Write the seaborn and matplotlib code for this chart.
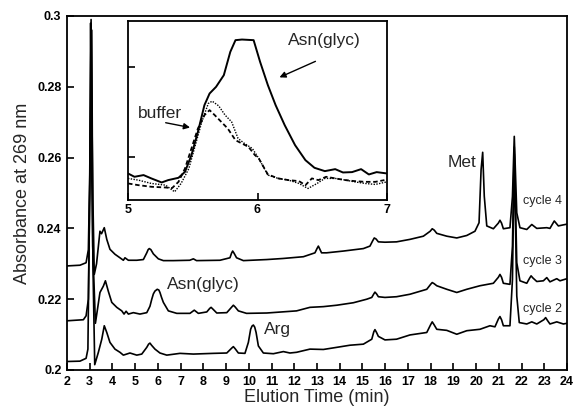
import numpy as np
import pandas as pd
import matplotlib
matplotlib.use("Agg")
import matplotlib.pyplot as plt
import seaborn as sns

# ---------------- data ----------------
c4_t = [2.0, 2.57, 2.84, 2.94, 3.0, 3.06, 3.10, 3.14, 3.20, 3.30, 3.45, 3.52, 3.64, 3.75, 3.89,
        4.11, 4.33, 4.48, 4.55, 4.70, 5.07, 5.36, 5.51, 5.57, 5.62, 5.69, 5.80, 6.02, 6.24, 6.68,
        7.40, 7.56, 7.70, 8.73, 9.17, 9.24, 9.29, 9.35, 9.46, 9.76, 10.79, 11.5, 12.4, 12.91, 13.00,
        13.06, 13.12, 13.2, 13.42, 14.16, 15.04, 15.33, 15.45, 15.52, 15.60, 15.70, 15.99, 16.5,
        17.09, 17.68, 17.98, 18.07, 18.16, 18.27, 18.71, 19.15, 19.59, 19.95, 20.13, 20.22, 20.29,
        20.36, 20.47, 20.76, 20.98, 21.05, 21.12, 21.20, 21.49, 21.60, 21.68, 21.79, 21.93, 22.23,
        22.45, 22.67, 23.11, 23.25, 23.44, 23.62, 23.84, 24.0]
c4_a = [0.2294, 0.2296, 0.2303, 0.2340, 0.2550, 0.2990, 0.2700, 0.2480, 0.2270, 0.2300, 0.2392,
        0.2385, 0.2402, 0.2369, 0.2341, 0.2327, 0.2317, 0.2310, 0.2317, 0.2310, 0.2310, 0.2312,
        0.2331, 0.2340, 0.2343, 0.2340, 0.2328, 0.2314, 0.2309, 0.2309, 0.2310, 0.2314, 0.2309,
        0.2310, 0.2317, 0.2330, 0.2336, 0.2330, 0.2317, 0.2309, 0.2312, 0.2315, 0.2320, 0.2331,
        0.2343, 0.2350, 0.2342, 0.2331, 0.2331, 0.2336, 0.2343, 0.2350, 0.2365, 0.2373, 0.2370,
        0.2362, 0.2361, 0.2362, 0.2369, 0.2378, 0.2392, 0.2399, 0.2395, 0.2386, 0.2378, 0.2373,
        0.2380, 0.2392, 0.2416, 0.2566, 0.2615, 0.2491, 0.2407, 0.2399, 0.2415, 0.2423, 0.2415,
        0.2399, 0.2402, 0.2490, 0.2660, 0.2444, 0.2402, 0.2397, 0.2411, 0.2400, 0.2402, 0.2400,
        0.2421, 0.2407, 0.2410, 0.2412]

c3_t = [2.0, 2.72, 2.84, 2.94, 3.00, 3.04, 3.08, 3.13, 3.25, 3.45, 3.60, 3.69, 3.82, 3.97, 4.19,
        4.41, 4.51, 4.60, 4.70, 4.92, 5.21, 5.51, 5.65, 5.73, 5.80, 5.87, 5.97, 6.04, 6.09, 6.16,
        6.24, 6.46, 6.83, 7.41, 7.60, 7.78, 8.15, 8.28, 8.34, 8.42, 8.59, 9.03, 9.25, 9.32, 9.40,
        9.54, 9.90, 10.79, 12.10, 12.69, 13.28, 13.87, 14.60, 15.19, 15.41, 15.50, 15.55, 15.62,
        15.70, 15.99, 16.50, 17.09, 17.83, 18.00, 18.07, 18.15, 18.27, 18.71, 19.15, 19.59, 20.17,
        20.76, 20.98, 21.05, 21.12, 21.20, 21.49, 21.60, 21.68, 21.79, 21.93, 22.23, 22.36, 22.42,
        22.50, 22.67, 22.96, 23.11, 23.25, 23.55, 23.69, 24.0]
c3_a = [0.2139, 0.2142, 0.2153, 0.2200, 0.2500, 0.2980, 0.2600, 0.2350, 0.2132, 0.2219, 0.2237,
        0.2252, 0.2222, 0.2191, 0.2177, 0.2167, 0.2158, 0.2166, 0.2158, 0.2162, 0.2158, 0.2162,
        0.2180, 0.2200, 0.2215, 0.2223, 0.2228, 0.2226, 0.2219, 0.2205, 0.2191, 0.2167, 0.2160,
        0.2160, 0.2169, 0.2160, 0.2164, 0.2174, 0.2177, 0.2172, 0.2161, 0.2162, 0.2178, 0.2183,
        0.2178, 0.2167, 0.2160, 0.2161, 0.2167, 0.2177, 0.2179, 0.2183, 0.2190, 0.2200, 0.2205,
        0.2215, 0.2220, 0.2215, 0.2207, 0.2205, 0.2207, 0.2214, 0.2228, 0.2242, 0.2247, 0.2244,
        0.2238, 0.2228, 0.2219, 0.2228, 0.2238, 0.2245, 0.2262, 0.2270, 0.2262, 0.2245, 0.2242,
        0.2350, 0.2630, 0.2303, 0.2252, 0.2245, 0.2260, 0.2266, 0.2260, 0.2250, 0.2252, 0.2261,
        0.2249, 0.2258, 0.2252, 0.2258]

c2_t = [2.0, 2.57, 2.84, 2.92, 2.98, 3.09, 3.14, 3.22, 3.38, 3.53, 3.64, 3.75, 3.89, 4.11, 4.33,
        4.48, 4.77, 5.07, 5.29, 5.51, 5.59, 5.65, 5.72, 5.87, 6.09, 6.39, 6.97, 7.56, 8.44, 9.03,
        9.25, 9.32, 9.40, 9.54, 9.83, 9.98, 10.08, 10.14, 10.20, 10.26, 10.32, 10.42, 10.64, 11.08,
        11.52, 11.81, 12.10, 12.69, 13.28, 13.87, 14.45, 15.04, 15.41, 15.50, 15.55, 15.62, 15.70,
        15.99, 16.50, 17.09, 17.83, 18.00, 18.07, 18.15, 18.27, 18.71, 19.15, 19.59, 20.17, 20.61,
        20.83, 20.98, 21.05, 21.12, 21.20, 21.49, 21.60, 21.68, 21.79, 21.90, 22.23, 22.45, 22.67,
        22.98, 23.06, 23.14, 23.25, 23.55, 23.84, 24.0]
c2_a = [0.2024, 0.2025, 0.2033, 0.2059, 0.2400, 0.2960, 0.2300, 0.2015, 0.2050, 0.2087, 0.2125,
        0.2106, 0.2078, 0.2059, 0.2050, 0.2042, 0.2048, 0.2042, 0.2045, 0.2064, 0.2073, 0.2076,
        0.2070, 0.2059, 0.2048, 0.2042, 0.2047, 0.2045, 0.2047, 0.2048, 0.2062, 0.2066, 0.2060,
        0.2048, 0.2047, 0.2078, 0.2115, 0.2124, 0.2127, 0.2121, 0.2106, 0.2068, 0.2048, 0.2046,
        0.2052, 0.2048, 0.2050, 0.2059, 0.2058, 0.2064, 0.2070, 0.2073, 0.2087, 0.2108, 0.2114,
        0.2106, 0.2095, 0.2085, 0.2087, 0.2099, 0.2106, 0.2128, 0.2136, 0.2128, 0.2115, 0.2112,
        0.2101, 0.2111, 0.2115, 0.2125, 0.2122, 0.2144, 0.2151, 0.2142, 0.2125, 0.2125, 0.2256,
        0.2610, 0.2209, 0.2134, 0.2130, 0.2136, 0.2130, 0.2142, 0.2148, 0.2140, 0.2130, 0.2136,
        0.2130, 0.2132]

# inset (arbitrary units)
in_solid_t = [5.00, 5.05, 5.12, 5.18, 5.26, 5.31, 5.39, 5.44, 5.49, 5.54, 5.59, 5.63, 5.68, 5.74,
              5.79, 5.83, 5.88, 5.97, 6.02, 6.08, 6.14, 6.21, 6.29, 6.37, 6.44, 6.52, 6.60, 6.66,
              6.73, 6.80, 6.86, 6.92, 7.00]
in_solid_v = [0.815, 0.778, 0.797, 0.760, 0.715, 0.741, 0.767, 0.833, 1.019, 1.278, 1.574, 1.704,
              1.778, 1.908, 2.167, 2.297, 2.304, 2.297, 2.056, 1.797, 1.574, 1.352, 1.130, 0.963,
              0.878, 0.841, 0.863, 0.826, 0.830, 0.863, 0.804, 0.830, 0.815]
in_dot_t = [5.00, 5.08, 5.18, 5.29, 5.36, 5.41, 5.47, 5.52, 5.57, 5.62, 5.65, 5.70, 5.75, 5.80,
            5.85, 5.90, 5.96, 6.01, 6.08, 6.16, 6.24, 6.32, 6.39, 6.46, 6.52, 6.60, 6.68, 6.75,
            6.83, 6.91, 7.00]
in_dot_v = [0.760, 0.741, 0.704, 0.685, 0.611, 0.704, 0.870, 1.130, 1.389, 1.593, 1.619, 1.567,
            1.463, 1.389, 1.204, 1.148, 1.093, 0.982, 0.797, 0.760, 0.741, 0.704, 0.648, 0.704,
            0.760, 0.760, 0.741, 0.722, 0.704, 0.693, 0.722]
in_dash_t = [5.00, 5.08, 5.18, 5.29, 5.34, 5.39, 5.44, 5.49, 5.54, 5.59, 5.63, 5.67, 5.72, 5.77,
             5.83, 5.88, 5.93, 5.98, 6.01, 6.08, 6.16, 6.24, 6.32, 6.37, 6.42, 6.47, 6.53, 6.60,
             6.68, 6.75, 6.83, 6.91, 6.98]
in_dash_v = [0.704, 0.685, 0.667, 0.659, 0.652, 0.722, 0.870, 1.093, 1.315, 1.463, 1.519, 1.463,
             1.389, 1.315, 1.185, 1.148, 1.111, 1.019, 0.982, 0.804, 0.760, 0.741, 0.730, 0.685,
             0.760, 0.741, 0.778, 0.760, 0.741, 0.730, 0.722, 0.722, 0.741]

x_ticks = list(range(2, 25))
y_ticks = [0.2, 0.22, 0.24, 0.26, 0.28, 0.3]
y_tick_labels = ["0.2", "0.22", "0.24", "0.26", "0.28", "0.3"]
inset_x_ticks = [5, 6, 7]
cycle_labels = ["cycle 4", "cycle 3", "cycle 2"]

# ---------------- plotting ----------------
sns.set_style("ticks")
plt.rcParams["font.family"] = ["Liberation Sans", "DejaVu Sans"]

fig = plt.figure(figsize=(5.75, 4.11), dpi=100)
ax = fig.add_axes([67 / 575, 1 - 370 / 411, 500 / 575, 354 / 411])

for t, a in [(c2_t, c2_a), (c3_t, c3_a), (c4_t, c4_a)]:
    df = pd.DataFrame({"t": t, "a": a})
    sns.lineplot(data=df, x="t", y="a", ax=ax, color="black", lw=1.2,
                 estimator=None, sort=False)

ax.set_xlim(2, 24)
ax.set_ylim(0.2, 0.3)
ax.set_xticks(x_ticks)
ax.set_xticklabels([str(v) for v in x_ticks], fontsize=9, fontweight="bold")
ax.set_yticks(y_ticks)
ax.set_yticklabels(y_tick_labels, fontsize=9, fontweight="bold")
ax.tick_params(direction="in", length=5, width=1.2, colors="black", pad=4)
for s in ax.spines.values():
    s.set_linewidth(1.3)
    s.set_color("black")
ax.set_xlabel("Elution Time (min)", fontsize=13, labelpad=1)
ax.set_ylabel("Absorbance at 269 nm", fontsize=13, labelpad=4)

ax.text(7.98, 0.2242, "Asn(glyc)", fontsize=12.5, ha="center", va="center")
ax.text(11.24, 0.2115, "Arg", fontsize=12.5, ha="center", va="center")
ax.text(19.38, 0.2586, "Met", fontsize=12.5, ha="center", va="center")
for lab, yv in zip(cycle_labels, [0.2476, 0.2308, 0.2172]):
    ax.text(22.93, yv, lab, fontsize=9, ha="center", va="center")

# inset
axi = fig.add_axes([128 / 575, 1 - 200 / 411, 259 / 575, 179 / 411])
sns.lineplot(x=in_dot_t, y=in_dot_v, ax=axi, color="black", lw=1.0, linestyle=(0, (1, 1)),
             estimator=None, sort=False)
sns.lineplot(x=in_dash_t, y=in_dash_v, ax=axi, color="black", lw=1.3, linestyle=(0, (2.5, 1.5)),
             estimator=None, sort=False)
sns.lineplot(x=in_solid_t, y=in_solid_v, ax=axi, color="black", lw=1.4,
             estimator=None, sort=False)
axi.set_xlim(5, 7)
axi.set_ylim(0.52, 2.51)
axi.set_xticks(inset_x_ticks)
axi.set_xticklabels([str(v) for v in inset_x_ticks], fontsize=9, fontweight="bold")
axi.set_yticks([1, 2])
axi.set_yticklabels([])
axi.tick_params(direction="in", length=5, width=1.2, colors="black", pad=3)
for s in axi.spines.values():
    s.set_linewidth(1.3)
    s.set_color("black")
axi.set_xlabel("")
axi.set_ylabel("")

arrow = dict(arrowstyle="-|>", color="black", lw=1.0, mutation_scale=9)
axi.text(5.247, 1.486, "buffer", fontsize=12.5, ha="center", va="center")
axi.annotate("", xy=(5.50, 1.32), xytext=(5.27, 1.385), arrowprops=arrow)
axi.text(6.52, 2.297, "Asn(glyc)", fontsize=12.5, ha="center", va="center")
axi.annotate("", xy=(6.15, 1.871), xytext=(6.467, 2.074), arrowprops=arrow)

fig.savefig("out.png", dpi=100, facecolor="white")
